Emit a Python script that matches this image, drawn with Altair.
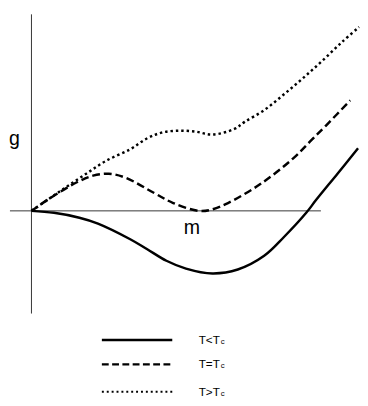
import altair as alt
import pandas as pd

# ---- curve data (m, g) ----
solid_m = [0, 0.23, 0.49, 0.68, 1.01, 1.18, 1.38, 1.58, 1.85, 2.11, 2.38, 2.58, 2.81, 2.91, 3.13, 3.34]
solid_g = [0, -0.02, -0.07, -0.13, -0.29, -0.39, -0.51, -0.59, -0.64, -0.60, -0.46, -0.27, -0.02, 0.11, 0.38, 0.64]

dashed_m = [0, 0.16, 0.46, 0.63, 0.79, 0.96, 1.26, 1.45, 1.71, 1.83, 2.01, 2.35, 2.68, 2.85, 3.01, 3.26]
dashed_g = [0, 0.11, 0.29, 0.36, 0.38, 0.34, 0.18, 0.08, 0.0, 0.01, 0.08, 0.28, 0.54, 0.71, 0.87, 1.13]

dotted_m = [0, 0.16, 0.35, 0.56, 0.76, 1.01, 1.18, 1.33, 1.50, 1.68, 1.85, 2.08, 2.18, 2.38, 2.58, 2.78, 2.98, 3.18, 3.35]
dotted_g = [0, 0.11, 0.24, 0.38, 0.51, 0.63, 0.74, 0.80, 0.82, 0.81, 0.78, 0.84, 0.91, 1.03, 1.19, 1.36, 1.54, 1.73, 1.88]

# axes extents
vaxis_m = [0]
vaxis_top = [2.01]
vaxis_bottom = [-1.05]
haxis_g = [0]
haxis_left = [-0.22]
haxis_right = [2.96]

# axis labels
axis_labels = ["g", "m"]
axis_label_m = [-0.175, 1.64]
axis_label_g = [0.67, -0.24]

# legend
legend_names = ["T<T", "T=T", "T>T"]
legend_sub = ["c", "c", "c"]
legend_g = [-1.32, -1.57, -1.85]
legend_line_m = [0.72, 1.44]
legend_text_m = 1.71
legend_sub_m = 1.935

XDOM = [-0.24, 3.36]
YDOM = [-1.91, 2.03]

xs = alt.Scale(domain=XDOM, nice=False, zero=False)
ys = alt.Scale(domain=YDOM, nice=False, zero=False)


def X(field):
    return alt.X(field, type="quantitative", scale=xs, axis=None)


def Y(field):
    return alt.Y(field, type="quantitative", scale=ys, axis=None)


def curve(ms, gs, dash):
    df = pd.DataFrame({"m": ms, "g": gs, "i": range(len(ms))})
    kw = dict(color="black", strokeWidth=2.5, interpolate="catmull-rom", clip=False)
    if dash:
        kw["strokeDash"] = dash
    return alt.Chart(df).mark_line(**kw).encode(
        x=X("m"), y=Y("g"), order=alt.Order("i:Q"))


solid = curve(solid_m, solid_g, None)
dashed = curve(dashed_m, dashed_g, [8, 4])
dotted = curve(dotted_m, dotted_g, [2.5, 3])

vaxis = alt.Chart(pd.DataFrame({"m": vaxis_m, "top": vaxis_top, "bot": vaxis_bottom})).mark_rule(
    color="#333333", strokeWidth=1).encode(x=X("m"), y=Y("top"), y2="bot")
haxis = alt.Chart(pd.DataFrame({"g": haxis_g, "l": haxis_left, "r": haxis_right})).mark_rule(
    color="#333333", strokeWidth=1).encode(y=Y("g"), x=X("l"), x2="r")

labels = alt.Chart(pd.DataFrame({"t": axis_labels, "m": axis_label_m, "g": axis_label_g})).mark_text(
    font="Liberation Sans", fontSize=20, color="black", align="center", baseline="alphabetic").encode(
    x=X("m"), y=Y("g"), text="t:N")

dashes = [[1, 0], [7, 3.5], [2, 3]]
leg_lines = []
for k in range(3):
    d = pd.DataFrame({"g": [legend_g[k]], "l": [legend_line_m[0]], "r": [legend_line_m[1]]})
    kw = dict(color="black", strokeWidth=2.5 if k < 2 else 2)
    if k > 0:
        kw["strokeDash"] = dashes[k]
    leg_lines.append(alt.Chart(d).mark_rule(**kw).encode(y=Y("g"), x=X("l"), x2="r"))

leg_df = pd.DataFrame({"t": legend_names, "s": legend_sub, "g": legend_g,
                       "m": [legend_text_m] * 3, "ms": [legend_sub_m] * 3})
leg_text = alt.Chart(leg_df).mark_text(
    font="Liberation Sans", fontSize=12, color="black", align="left", baseline="middle").encode(
    x=X("m"), y=Y("g"), text="t:N")
leg_sub = alt.Chart(leg_df).mark_text(
    font="Liberation Sans", fontSize=8, color="black", align="left", baseline="middle", dy=2).encode(
    x=X("ms"), y=Y("g"), text="s:N")

chart = alt.layer(vaxis, haxis, solid, dashed, dotted, labels, *leg_lines, leg_text, leg_sub).properties(
    width=360, height=394, padding=0, autosize=alt.AutoSizeParams(type="none")
).configure_view(stroke=None)

chart.save("out.html", embed_options={"renderer": "svg", "actions": False})
